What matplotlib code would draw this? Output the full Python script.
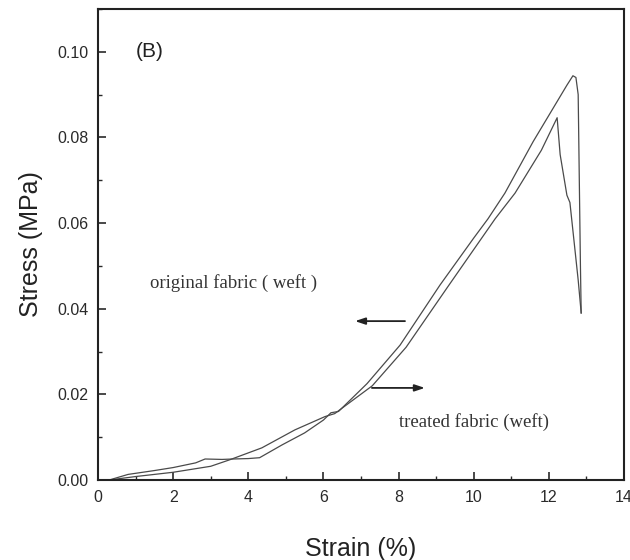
import matplotlib
matplotlib.use("Agg")
import matplotlib.pyplot as plt
from matplotlib.ticker import MultipleLocator, FormatStrFormatter

# Stress-strain curves of the fabric in the weft direction
strain_original = [0.3, 0.8, 1.5, 2.0, 2.6, 2.85, 3.3, 3.6, 4.0, 4.3, 4.9, 5.5, 6.0,
                   6.2, 6.4, 7.16, 8.04, 9.1, 10.0, 10.38, 10.83, 11.58, 12.48,
                   12.64, 12.72, 12.78, 12.84, 12.86]
stress_original = [0.0, 0.0013, 0.0022, 0.0029, 0.0040, 0.0049, 0.0048, 0.0049,
                   0.0050, 0.0052, 0.0082, 0.0110, 0.0140, 0.0157, 0.0160, 0.0225,
                   0.0315, 0.0455, 0.0565, 0.0610, 0.0670, 0.0790, 0.0922, 0.0944,
                   0.0940, 0.0900, 0.0500, 0.0390]

strain_treated = [0.3, 1.0, 2.0, 3.0, 3.5, 4.36, 5.24, 6.04, 6.3, 7.3, 8.2, 9.3,
                  10.57, 11.1, 11.8, 12.22, 12.3, 12.48, 12.56, 12.78, 12.86]
stress_treated = [0.0, 0.0008, 0.0018, 0.0032, 0.0047, 0.0075, 0.0117, 0.0148,
                  0.0155, 0.0220, 0.0310, 0.0450, 0.0610, 0.0670, 0.0770, 0.0846,
                  0.0760, 0.0665, 0.0648, 0.0467, 0.0390]

x_ticks = [0, 2, 4, 6, 8, 10, 12, 14]
y_ticks = [0.00, 0.02, 0.04, 0.06, 0.08, 0.10]

label_original = "original fabric ( weft )"
label_treated = "treated fabric (weft)"
panel_tag = "(B)"

plt.rcParams['font.family'] = ['Liberation Sans', 'DejaVu Sans']

fig = plt.figure(figsize=(6.3, 5.6), dpi=100)
ax = fig.add_axes([0.1556, 0.1429, 0.8349, 0.8411])

line_kw = dict(color='#4a4a4a', linewidth=0.9)
ax.plot(strain_original, stress_original, **line_kw)
ax.plot(strain_treated, stress_treated, **line_kw)

ax.set_xlim(0, 14)
ax.set_ylim(0, 0.11)
ax.set_xticks(x_ticks)
ax.set_yticks(y_ticks)
ax.xaxis.set_minor_locator(MultipleLocator(1))
ax.yaxis.set_minor_locator(MultipleLocator(0.01))
ax.yaxis.set_major_formatter(FormatStrFormatter('%.2f'))

ax.tick_params(which='major', direction='in', length=6, width=1.2, labelsize=11.5,
               pad=7, colors='#2a2a2a')
ax.tick_params(which='minor', direction='in', length=3, width=1.0, colors='#2a2a2a')
for s in ax.spines.values():
    s.set_linewidth(1.5)
    s.set_color('#222222')

ax.set_xlabel("Strain (%)", fontsize=18, labelpad=23, color='#222222')
ax.set_ylabel("Stress (MPa)", fontsize=18, labelpad=10, color='#222222')

ax.text(1.38, 0.100, panel_tag, fontsize=15, ha='center', va='center',
        color='#222222')

serif = ['Liberation Serif', 'DejaVu Serif']
ax.text(3.62, 0.046, label_original, fontsize=13.5, ha='center', va='center',
        family=serif, color='#333333')
ax.text(10.0, 0.0135, label_treated, fontsize=13.5, ha='center', va='center',
        family=serif, color='#333333')

arrow_kw = dict(arrowstyle='-|>,head_length=0.6,head_width=0.2', color='#222222',
                linewidth=1.3, shrinkA=0, shrinkB=0)
ax.annotate('', xy=(6.84, 0.0371), xytext=(8.17, 0.0371), arrowprops=arrow_kw)
ax.annotate('', xy=(8.70, 0.0215), xytext=(7.29, 0.0215), arrowprops=arrow_kw)

fig.savefig("out.png", dpi=100)
